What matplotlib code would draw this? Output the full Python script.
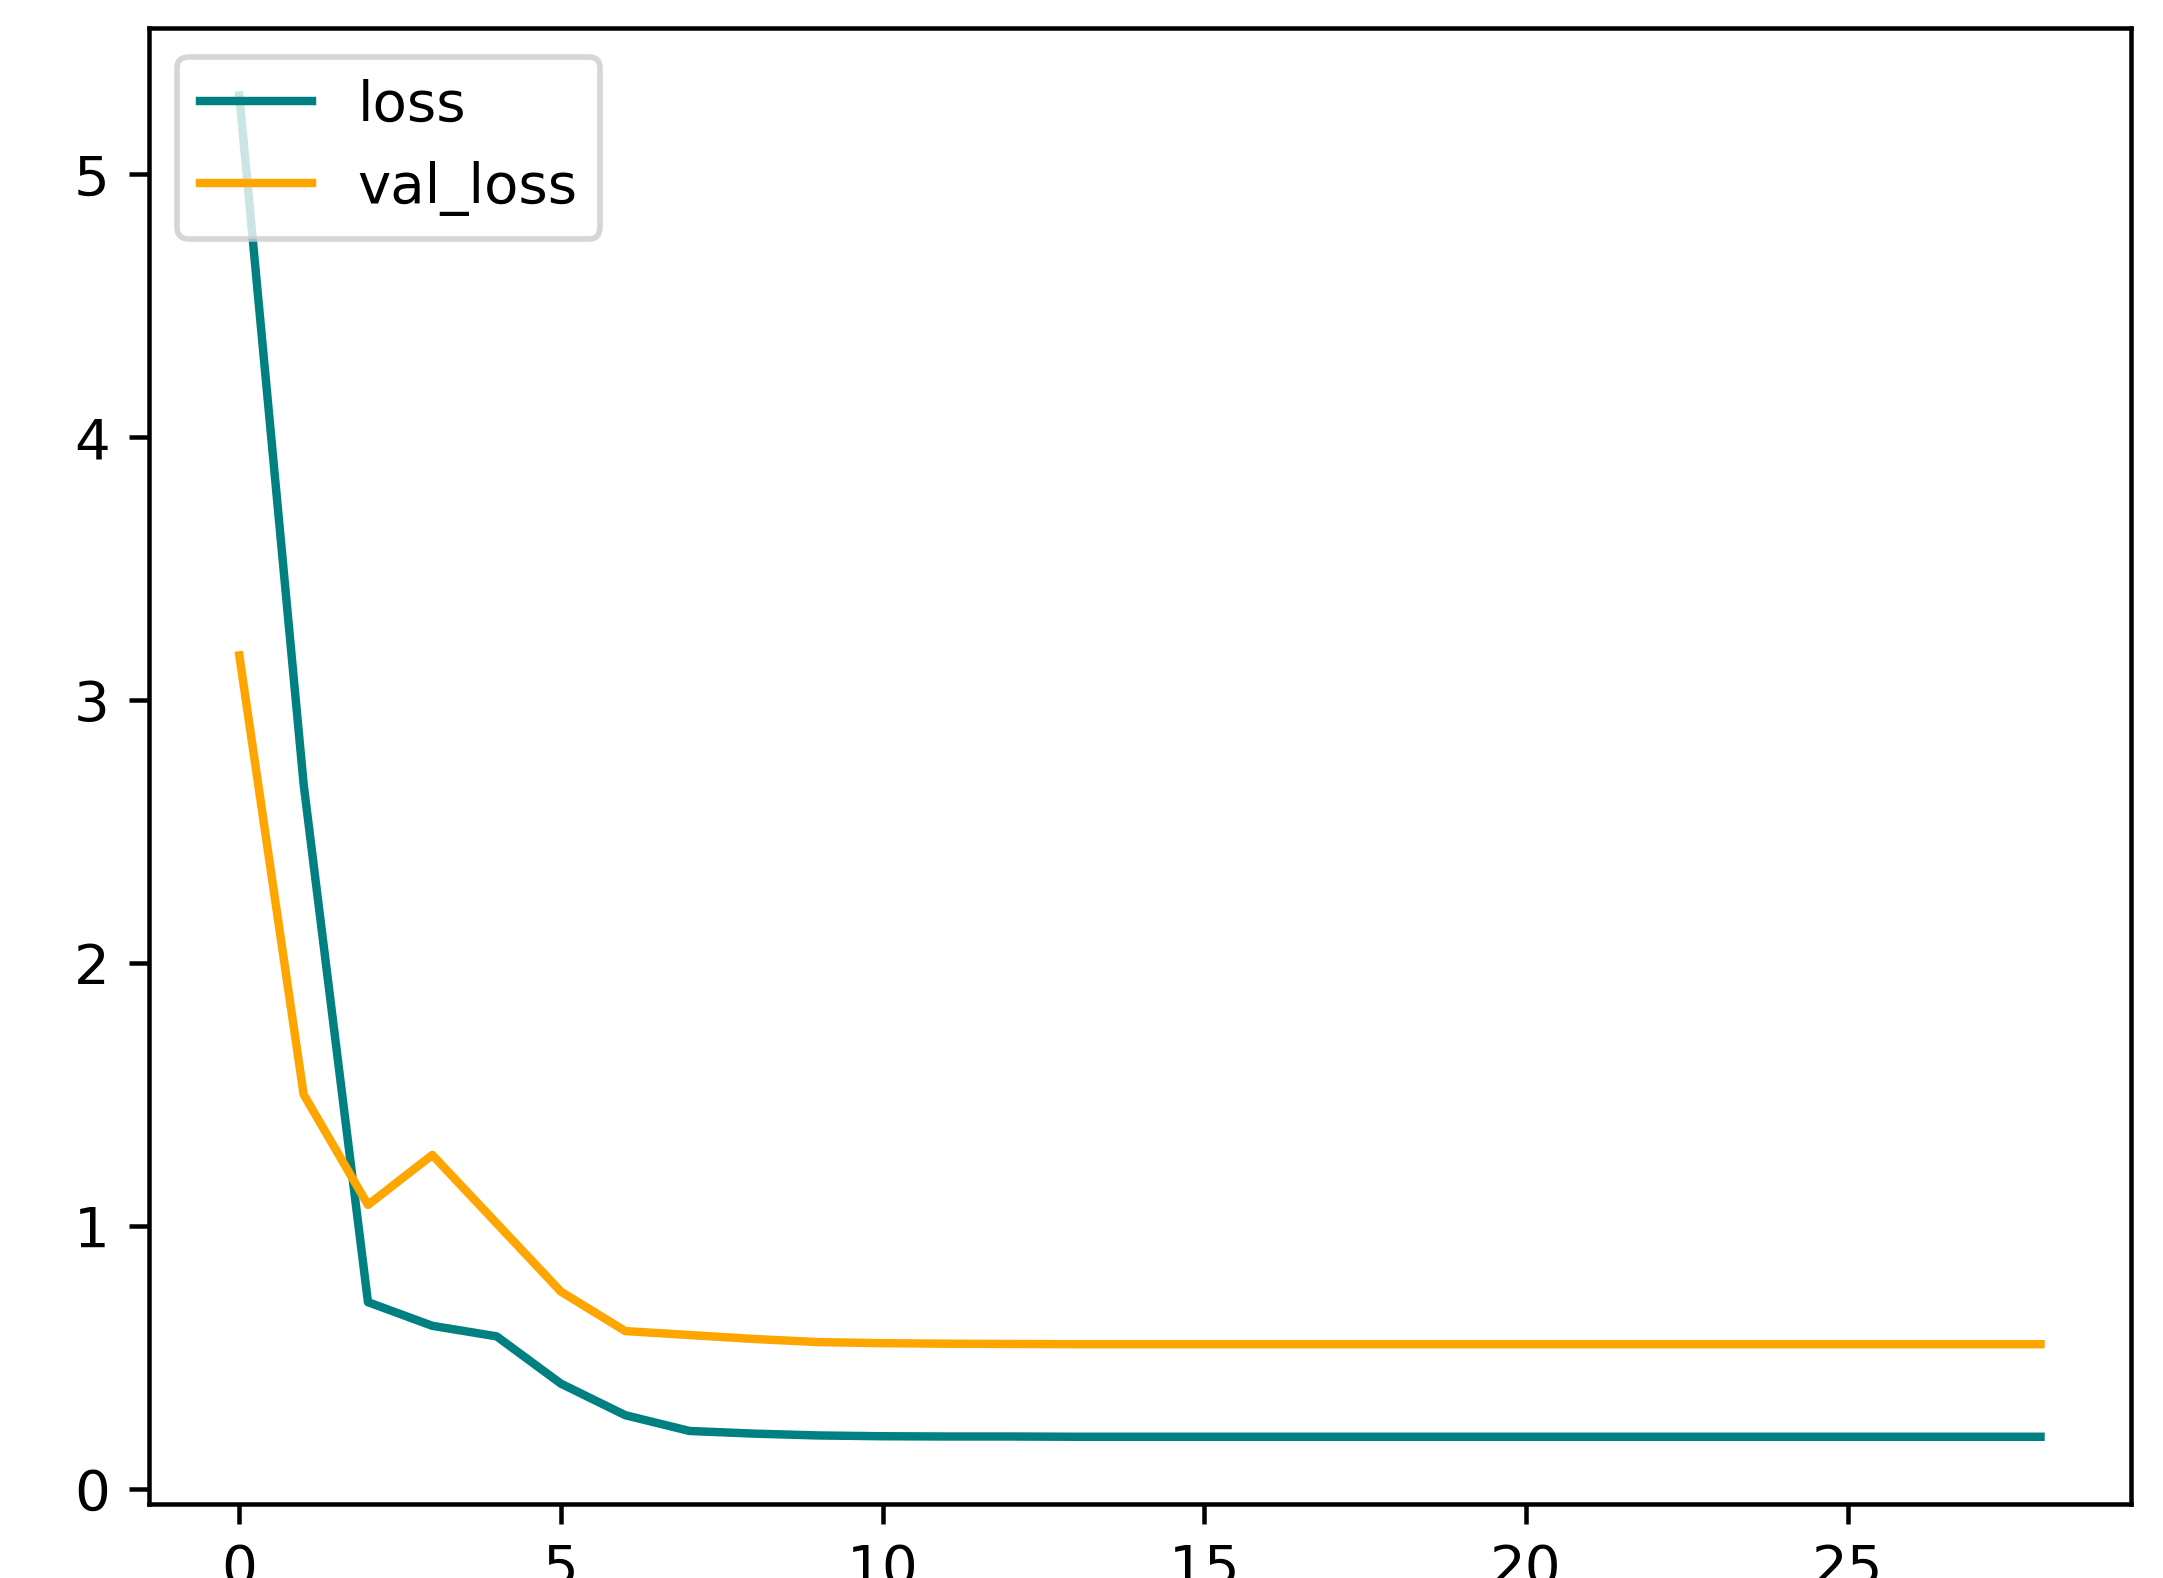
import numpy as np
import matplotlib
matplotlib.use('Agg')
import matplotlib.pyplot as plt

# 训练曲线数据
epochs = list(range(29))
loss = [5.30, 2.68, 0.71, 0.62, 0.58, 0.40, 0.28, 0.22, 0.21, 0.203,
        0.200, 0.199, 0.199, 0.198, 0.198, 0.198, 0.198, 0.198, 0.198, 0.198,
        0.198, 0.198, 0.198, 0.198, 0.198, 0.198, 0.198, 0.198, 0.198]
val_loss = [3.17, 1.50, 1.08, 1.27, 1.01, 0.75, 0.60, 0.585, 0.57, 0.558,
            0.554, 0.552, 0.551, 0.550, 0.550, 0.550, 0.550, 0.550, 0.550, 0.550,
            0.550, 0.550, 0.550, 0.550, 0.550, 0.550, 0.550, 0.550, 0.550]

DPI = 405
fig = plt.figure(figsize=(2163 / DPI, 1578 / DPI), dpi=DPI)
ax = fig.add_axes([0.069, 0.047, 0.916, 0.935])
ax.plot(epochs, loss, color='teal', label='loss')
ax.plot(epochs, val_loss, color='orange', label='val_loss')
ax.legend(loc='upper left')
fig.savefig('out.png', dpi=DPI)
plt.close(fig)
